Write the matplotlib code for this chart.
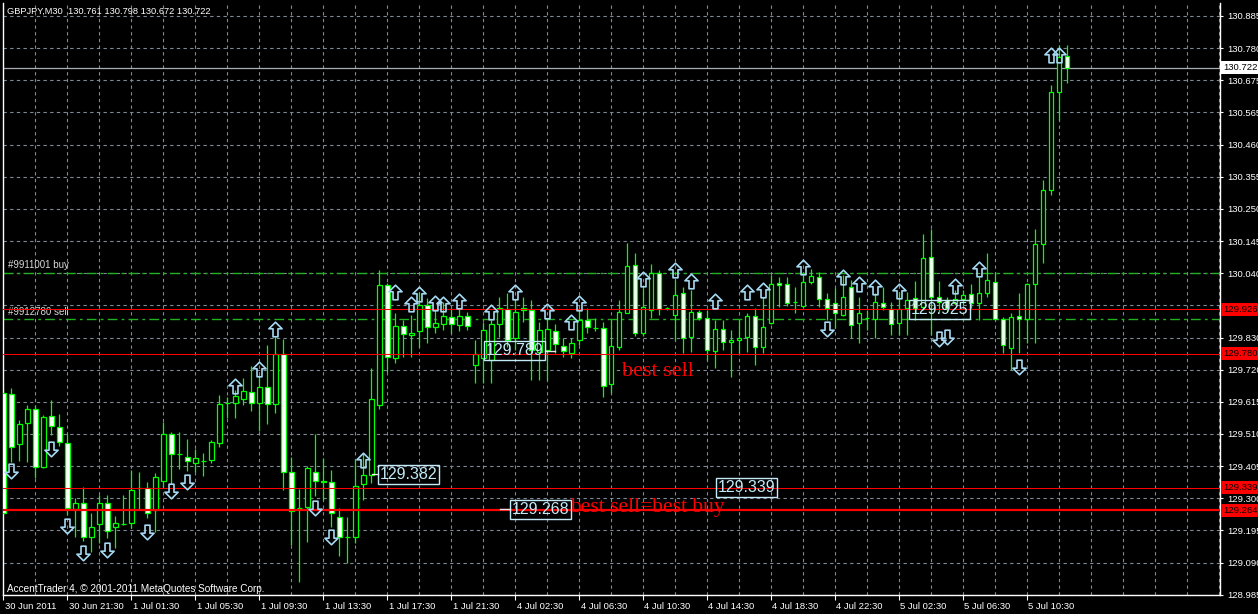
"""MT4 style GBPJPY M30 candlestick chart with order levels and labels."""

import matplotlib
matplotlib.use('Agg')
import matplotlib.pyplot as plt
import numpy as np
from matplotlib.path import Path
from matplotlib.patches import Rectangle
import matplotlib.transforms as mtransforms


BG = '#000000'
FG = '#ffffff'
GRID = '#7f8a96'
CANDLE = '#00ff00'
ARROW = '#a6d8f2'
LABEL = '#c4eaf8'
RED = '#ff0000'
ORDER = '#20b020'

# M30 bars from 30 Jun 2011 17:30 to 5 Jul 2011 12:00
opens = [129.650, 129.647, 129.481, 129.551, 129.597, 129.406, 129.575, 129.539, 129.485, 129.268,
         129.287, 129.175, 129.218, 129.289, 129.208, 129.219, 129.223, 129.336, 129.336, 129.265,
         129.361, 129.515, 129.449, 129.438, 129.421, 129.427, 129.430, 129.487, 129.618, 129.618,
         129.629, 129.655, 129.618, 129.671, 129.614, 129.778, 129.389, 129.271, 129.276, 129.391,
         129.361, 129.358, 129.241, 129.177, 129.177, 129.350, 129.381, 129.611, 130.006, 129.764,
         129.871, 129.840, 129.853, 129.940, 129.867, 129.878, 129.900, 129.873, 129.904, 129.743,
         129.766, 129.759, 129.878, 129.926, 129.831, 129.929, 129.924, 129.785, 129.792, 129.855,
         129.806, 129.783, 129.824, 129.891, 129.866, 129.864, 129.680, 129.803, 129.915, 130.072,
         129.847, 129.924, 130.047, 129.930, 129.907, 129.979, 129.834, 129.918, 129.896, 129.789,
         129.860, 129.817, 129.825, 129.834, 129.905, 129.801, 129.880, 130.012, 130.008, 129.949,
         129.938, 130.017, 130.031, 129.961, 129.946, 129.907, 130.001, 129.880, 129.898, 129.895,
         129.946, 129.926, 129.880, 129.929, 129.962, 129.933, 130.097, 129.966, 129.957, 129.946,
         129.961, 129.976, 129.946, 129.979, 130.016, 129.893, 129.797, 129.904, 129.895, 130.008,
         130.140, 130.319, 130.642, 130.761]
highs = [129.660, 129.667, 129.561, 129.611, 129.611, 129.578, 129.627, 129.581, 129.514, 129.304,
         129.340, 129.254, 129.314, 129.314, 129.245, 129.314, 129.397, 129.391, 129.358, 129.388,
         129.554, 129.523, 129.523, 129.498, 129.466, 129.454, 129.496, 129.644, 129.638, 129.660,
         129.699, 129.739, 129.710, 129.808, 129.836, 129.827, 129.439, 129.333, 129.410, 129.515,
         129.435, 129.397, 129.271, 129.243, 129.432, 129.452, 129.732, 130.055, 130.013, 129.913,
         129.891, 129.907, 129.984, 129.962, 129.924, 129.951, 129.929, 129.926, 129.918, 129.825,
         129.884, 129.891, 129.968, 129.979, 129.957, 129.968, 129.957, 129.884, 129.897, 129.878,
         129.831, 129.831, 129.929, 129.929, 129.897, 129.885, 129.891, 129.957, 130.144, 130.110,
         129.996, 130.075, 130.055, 129.935, 130.023, 130.001, 129.990, 129.924, 129.924, 129.891,
         129.891, 129.858, 129.891, 129.913, 129.929, 129.968, 130.039, 130.033, 130.033, 130.001,
         130.039, 130.058, 130.050, 129.979, 129.995, 130.039, 130.023, 129.968, 129.924, 129.979,
         130.001, 129.951, 129.984, 129.984, 130.020, 130.174, 130.190, 130.019, 129.968, 129.990,
         129.990, 130.009, 130.033, 130.110, 130.050, 129.902, 129.913, 129.979, 130.012, 130.190,
         130.352, 130.665, 130.797, 130.798]
lows = [129.250, 129.423, 129.426, 129.424, 129.370, 129.404, 129.512, 129.477, 129.249, 129.177,
        129.164, 129.128, 129.155, 129.172, 129.139, 129.216, 129.205, 129.265, 129.238, 129.194,
        129.342, 129.351, 129.399, 129.394, 129.391, 129.376, 129.419, 129.471, 129.567, 129.567,
        129.611, 129.592, 129.526, 129.548, 129.585, 129.331, 129.150, 129.029, 129.161, 129.311,
        129.298, 129.210, 129.114, 129.090, 129.155, 129.298, 129.355, 129.597, 129.720, 129.750,
        129.770, 129.770, 129.803, 129.814, 129.847, 129.858, 129.847, 129.853, 129.858, 129.682,
        129.683, 129.683, 129.836, 129.803, 129.792, 129.885, 129.693, 129.693, 129.693, 129.781,
        129.770, 129.765, 129.808, 129.847, 129.853, 129.638, 129.649, 129.792, 129.913, 129.838,
        129.838, 129.896, 129.907, 129.924, 129.825, 129.781, 129.786, 129.891, 129.759, 129.732,
        129.792, 129.702, 129.781, 129.786, 129.743, 129.783, 129.878, 129.933, 129.937, 129.913,
        129.933, 130.009, 129.935, 129.891, 129.864, 129.904, 129.831, 129.814, 129.858, 129.831,
        129.924, 129.841, 129.841, 129.841, 129.891, 129.924, 129.841, 129.918, 129.918, 129.940,
        129.940, 129.929, 129.891, 129.968, 129.891, 129.783, 129.726, 129.781, 129.814, 129.814,
        130.080, 130.302, 130.549, 130.672]
closes = [129.255, 129.472, 129.547, 129.597, 129.406, 129.572, 129.542, 129.488, 129.271, 129.287,
          129.175, 129.210, 129.287, 129.197, 129.223, 129.219, 129.331, 129.336, 129.254, 129.373,
          129.515, 129.449, 129.449, 129.427, 129.436, 129.427, 129.490, 129.614, 129.618, 129.640,
          129.658, 129.616, 129.671, 129.614, 129.778, 129.391, 129.263, 129.271, 129.402, 129.361,
          129.356, 129.254, 129.175, 129.177, 129.345, 129.381, 129.630, 130.006, 129.770, 129.871,
          129.845, 129.847, 129.940, 129.867, 129.880, 129.904, 129.878, 129.904, 129.871, 129.779,
          129.858, 129.878, 129.929, 129.825, 129.918, 129.924, 129.792, 129.858, 129.860, 129.812,
          129.790, 129.814, 129.891, 129.869, 129.866, 129.673, 129.806, 129.918, 130.068, 129.847,
          129.935, 130.045, 129.926, 129.930, 129.973, 129.831, 129.918, 129.896, 129.792, 129.860,
          129.817, 129.825, 129.831, 129.905, 129.801, 129.869, 130.008, 130.005, 129.946, 129.949,
          130.015, 130.036, 129.959, 129.929, 129.913, 129.968, 129.874, 129.915, 129.898, 129.949,
          129.933, 129.878, 129.926, 129.957, 129.929, 130.094, 129.966, 129.950, 129.929, 129.959,
          129.973, 129.946, 129.979, 130.023, 129.895, 129.807, 129.902, 129.893, 130.009, 130.140,
          130.319, 130.642, 130.757, 130.722]

time_labels = ['30 Jun 2011', '30 Jun 21:30', '1 Jul 01:30', '1 Jul 05:30', '1 Jul 09:30',
               '1 Jul 13:30', '1 Jul 17:30', '1 Jul 21:30', '4 Jul 02:30', '4 Jul 06:30',
               '4 Jul 10:30', '4 Jul 14:30', '4 Jul 18:30', '4 Jul 22:30', '5 Jul 02:30',
               '5 Jul 06:30', '5 Jul 10:30']
label_step = 8

price_labels = ['130.885', '130.780', '130.675', '130.565', '130.460', '130.355', '130.250',
                '130.145', '130.040', '129.935', '129.830', '129.720', '129.615', '129.510',
                '129.405', '129.300', '129.195', '129.090', '128.985']
grid_top, grid_bottom = 130.892, 128.986

level_prices = [129.926, 129.780, 129.339, 129.264]
bid_price = 130.722
order_prices = [130.045, 129.893]
order_names = ['#9911001 buy', '#9912780 sell']

# signal arrows: bar index and price
up_bars = [29, 32, 34, 45, 49, 51, 52, 54, 55, 57, 61, 64, 68, 71, 72, 80, 84, 86, 89, 93,
           95, 100, 105, 107, 109, 112, 119, 122, 131, 132]
up_prices = [129.675, 129.729, 129.860, 129.430, 129.983, 129.944, 129.975, 129.947, 129.945,
             129.953, 129.917, 129.983, 129.920, 129.884, 129.947, 130.027, 130.055, 130.019,
             129.952, 129.983, 129.991, 130.065, 130.032, 130.008, 129.999, 129.986, 130.003,
             130.059, 130.763, 130.763]
down_bars = [1, 6, 8, 10, 13, 18, 21, 23, 39, 41, 103, 117, 118, 127]
down_prices = [129.392, 129.466, 129.212, 129.123, 129.133, 129.193, 129.328, 129.357, 129.271,
               129.176, 129.861, 129.828, 129.835, 129.736]

# price labels drawn on the chart
box_texts = ['129.382', '129.789', '129.268', '129.339', '129.925']
box_prices = [129.382, 129.789, 129.268, 129.339, 129.925]


W, H = 1258, 614
fig = plt.figure(figsize=(W / 100, H / 100), dpi=100)
fig.patch.set_facecolor(BG)
ax = fig.add_axes([3 / W, (H - 595) / H, 1217 / W, 592 / H])
ax.set_facecolor(BG)
ax.set_xlim(-0.04, 152.09)
ax.set_ylim(128.9851, 130.9348)

# grid
grid_prices = np.linspace(grid_top, grid_bottom, len(price_labels))
for gp in grid_prices:
    ax.axhline(gp, color=GRID, lw=0.8, ls=(0, (3, 3)), zorder=0)
for gx in range(4, 153, 4):
    ax.axvline(gx, color=GRID, lw=0.8, ls=(0, (3, 3)), zorder=0)

# order lines and levels
for op, name in zip(order_prices, order_names):
    ax.axhline(op, color=ORDER, lw=1.0, ls=(0, (7, 3, 2, 3)), zorder=1)
    ax.text(0.6, op + 0.009, name, fontsize=7, color='#d8d8d8',
            family='Liberation Sans', va='bottom', ha='left')
ax.axhline(bid_price, color='#a8acb4', lw=0.9, zorder=1)
for k, lp in enumerate(level_prices):
    ax.axhline(lp, color=RED, lw=1.6 if k == 3 else 0.75, zorder=4)

# candles
o, hi, lo, c = (np.array(v) for v in (opens, highs, lows, closes))
idx = np.arange(len(o))
ax.vlines(idx, lo, hi, color=CANDLE, lw=0.9, zorder=2)
body_fill = np.where(c < o, '#ffffff', '#000000')
ax.bar(idx, np.abs(c - o), bottom=np.minimum(o, c), width=0.55, color=body_fill,
       edgecolor=CANDLE, linewidth=0.9, zorder=3)

# arrows
up_path = Path([(0, 0.5), (0.45, 0.05), (0.17, 0.05), (0.17, -0.5), (-0.17, -0.5),
                (-0.17, 0.05), (-0.45, 0.05), (0, 0.5)], closed=True)
down_path = Path([(x, -y) for x, y in up_path.vertices], closed=True)
ax.plot(up_bars, up_prices, ls='none', marker=up_path, ms=10.5, mfc='none', mec=ARROW,
        mew=1.2, zorder=5)
ax.plot(down_bars, down_prices, ls='none', marker=down_path, ms=10.5, mfc='none', mec=ARROW,
        mew=1.2, zorder=5)

# price boxes on the chart (left edge in bars)
box_left = [46.84, 60.1, 63.3, 89.1, 113.2]
box_w, box_h = 7.6, 0.062
for txt, bp, bl in zip(box_texts, box_prices, box_left):
    ax.add_patch(Rectangle((bl, bp - box_h / 2), box_w, box_h, fill=False,
                           edgecolor=LABEL, lw=1.0, zorder=6))
    ax.text(bl + box_w / 2, bp, txt, fontsize=11.5, color=LABEL, family='Liberation Sans',
            ha='center', va='center', zorder=6)
for x0, x1, yp in [(46.1, 46.84, 129.383), (67.7, 68.97, 129.789), (62.1, 63.3, 129.268)]:
    ax.plot([x0, x1], [yp, yp], color='#e8e8e8', lw=1.0, zorder=6)

ax.text(77.4, 129.706, 'best sell', fontsize=16, color=RED, family='Liberation Serif',
        va='baseline', ha='left', zorder=7)
ax.text(70.9, 129.259, 'best sell=best buy', fontsize=15.5, color=RED,
        family='Liberation Serif', va='baseline', ha='left', zorder=7)

# axes frame and ticks
for side in ('left', 'right', 'bottom'):
    ax.spines[side].set_color(FG)
    ax.spines[side].set_linewidth(1.0)
ax.spines['top'].set_visible(False)

ax.yaxis.tick_right()
ax.set_yticks(grid_prices)
ax.set_yticklabels(price_labels, fontsize=6.8, color=FG, family='Liberation Sans')
ax.tick_params(axis='y', colors=FG, length=2.5, width=0.8, pad=2.5)

tick_bars = np.arange(len(time_labels)) * label_step
ax.set_xticks(tick_bars)
ax.set_xticklabels([])
ax.tick_params(axis='x', colors=FG, length=3.5, width=0.8)
xt = mtransforms.blended_transform_factory(ax.transData, ax.transAxes)
for tb, lab in zip(tick_bars, time_labels):
    ax.text(tb + 0.15, -0.019, lab, transform=xt, fontsize=6.8, color=FG,
            family='Liberation Sans', ha='left', va='center', clip_on=False)

# right side price tags
yt = mtransforms.blended_transform_factory(ax.transAxes, ax.transData)
for lp in level_prices:
    ax.text(1.0025, lp, f'{lp:.3f}', transform=yt, fontsize=6.8, color='#000000',
            family='Liberation Sans', ha='left', va='center', clip_on=False, zorder=10,
            bbox=dict(boxstyle='square,pad=0.2', fc=RED, ec='none'))
ax.text(1.0025, bid_price, f'{bid_price:.3f}', transform=yt, fontsize=6.8, color='#000000',
        family='Liberation Sans', ha='left', va='center', clip_on=False, zorder=10,
        bbox=dict(boxstyle='square,pad=0.2', fc='#ffffff', ec='none'))

fig.text(7 / W, 1 - 11 / H, 'GBPJPY,M30  130.761 130.798 130.672 130.722', fontsize=6.7,
         color=FG, family='Liberation Sans', va='center', ha='left')
fig.text(7 / W, 1 - 589 / H, 'AccentTrader 4, \u00a9 2001-2011 MetaQuotes Software Corp.',
         fontsize=7.2, color=FG, family='Liberation Sans', va='center', ha='left')

fig.savefig('out.png', dpi=100, facecolor=BG)
plt.close(fig)
